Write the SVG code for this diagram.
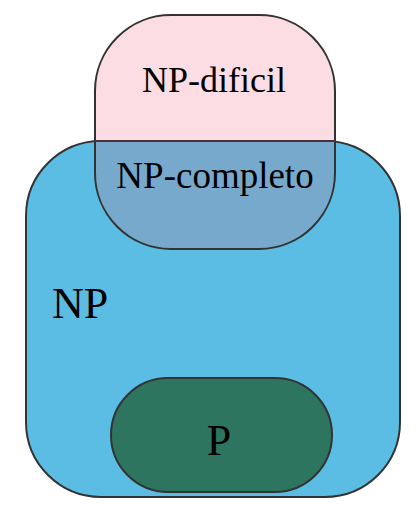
<svg xmlns="http://www.w3.org/2000/svg" width="419" height="510" viewBox="0 0 419 510">
<style>
.lbl{font-family:"Liberation Serif","Times New Roman",serif;fill:#000}
.edge{stroke:#333;stroke-width:2}
</style>
<defs>
<clipPath id="clipNP"><rect x="26" y="141" width="374" height="356" rx="75" ry="75"/></clipPath>
</defs>
<g id="np">
<rect class="edge" x="26" y="141" width="374" height="356" rx="75" ry="75" fill="#5CBDE4"/>
</g>
<g id="np-dificil">
<rect x="95" y="15" width="240" height="234" rx="76" ry="76" fill="#FDDDE4"/>
</g>
<g id="np-completo">
<rect x="95" y="15" width="240" height="234" rx="76" ry="76" fill="#77A9CD" clip-path="url(#clipNP)"/>
<rect x="95" y="15" width="240" height="234" rx="76" ry="76" fill="none" stroke="#333" stroke-width="2"/>
<line x1="95" y1="141" x2="335" y2="141" stroke="#4a3038" stroke-width="2"/>
</g>
<g id="p">
<rect class="edge" x="111" y="378" width="221" height="114" rx="57" ry="57" fill="#2E7560"/>
</g>
<g id="labels">
<text class="lbl" x="214" y="92" font-size="36" text-anchor="middle">NP-dificil</text>
<text class="lbl" x="215" y="188" font-size="37" text-anchor="middle">NP-completo</text>
<text class="lbl" x="52" y="318" font-size="44">NP</text>
<text class="lbl" x="219" y="455" font-size="44" text-anchor="middle">P</text>
</g>
<g id="connectors"/>
</svg>
